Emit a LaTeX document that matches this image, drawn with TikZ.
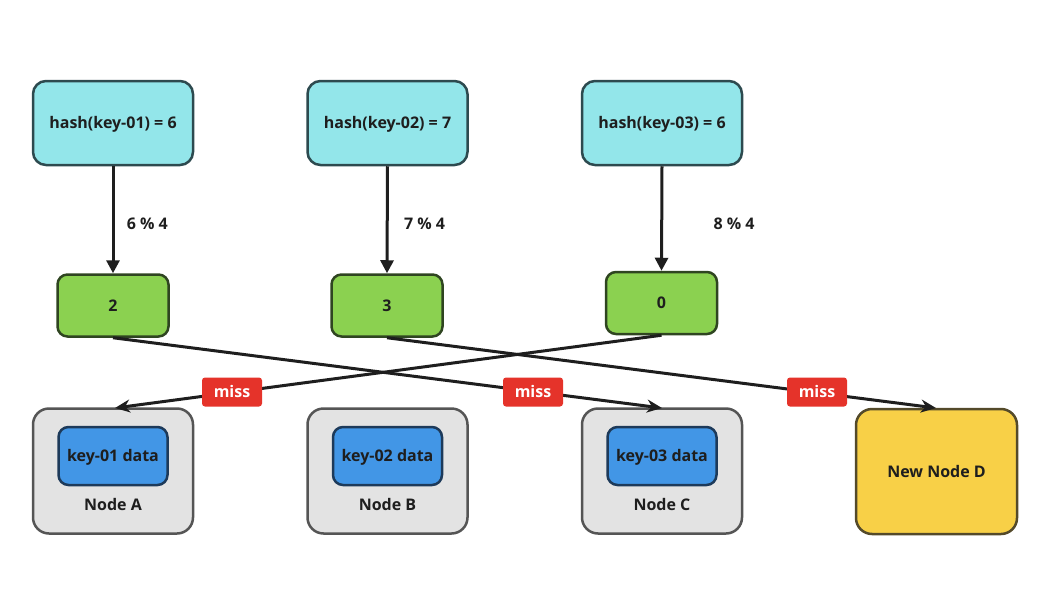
\documentclass[tikz,border=0pt]{standalone}
\usepackage{fontspec}
\setmainfont{Open Sans}
\usetikzlibrary{arrows.meta}
\definecolor{hashfill}{HTML}{93E6EA}
\definecolor{hashdraw}{HTML}{2D4A4F}
\definecolor{grfill}{HTML}{8BD150}
\definecolor{grdraw}{HTML}{2F4521}
\definecolor{gyfill}{HTML}{E3E3E3}
\definecolor{gydraw}{HTML}{555555}
\definecolor{blfill}{HTML}{4296E6}
\definecolor{bldraw}{HTML}{1D3A5A}
\definecolor{yefill}{HTML}{F8D047}
\definecolor{yedraw}{HTML}{544A2A}
\definecolor{missred}{HTML}{E5332A}
\definecolor{ink}{HTML}{1E1E1E}
\begin{document}
\begin{tikzpicture}[x=1pt,y=-1pt,
  every node/.style={font=\bfseries\fontsize{16}{18}\selectfont, text=ink, text height=11.5pt, text depth=0pt},
  hashbox/.style={draw=hashdraw, fill=hashfill, line width=2.5pt, rounded corners=13pt, minimum width=160pt, minimum height=84pt},
  modbox/.style={draw=grdraw, fill=grfill, line width=2.5pt, rounded corners=10pt, minimum width=111pt, minimum height=62pt},
  serverbox/.style={draw=gydraw, fill=gyfill, line width=2.5pt, rounded corners=16pt, minimum width=160pt, minimum height=125pt},
  databox/.style={draw=bldraw, fill=blfill, line width=2.5pt, rounded corners=10pt, minimum width=109pt, minimum height=58pt},
  newbox/.style={draw=yedraw, fill=yefill, line width=2.5pt, rounded corners=16pt, minimum width=161pt, minimum height=125pt},
  misslabel/.style={fill=missred, text=white, rounded corners=3pt, minimum width=60pt, minimum height=29pt, inner sep=0pt},
  vconn/.style={draw=ink, line width=3pt, -{Triangle[length=13pt,width=13pt]}},
  xconn/.style={draw=ink, line width=3pt, -{Stealth[length=15pt,width=13pt]}},
  modlabel/.style={anchor=west}
]
\useasboundingbox (0,0) rectangle (1050,616);

\node[hashbox] (h1) at (113,123) {hash(key-01) = 6};
\node[hashbox] (h2) at (387.5,123) {hash(key-02) = 7};
\node[hashbox] (h3) at (662,123) {hash(key-03) = 6};

\node[modbox] (m1) at (113,305.5) {2};
\node[modbox] (m2) at (387,305.5) {3};
\node[modbox] (m3) at (661.5,303) {0};

\node[serverbox] (sa) at (113,471) {};
\node[serverbox] (sb) at (387.5,471) {};
\node[serverbox] (sc) at (662,471) {};
\node[newbox] (sd) at (936.5,471.5) {New Node D};

\node[databox] (da) at (113,456) {key-01 data};
\node[databox] (db) at (387.5,456) {key-02 data};
\node[databox] (dc) at (662,456) {key-03 data};

\node (na) at (113,505) {Node A};
\node (nb) at (387.5,505) {Node B};
\node (nc) at (662,505) {Node C};

\draw[vconn] (h1.south) -- (m1.north) node[modlabel, pos=0.54, xshift=9pt] {6 \% 4};
\draw[vconn] (h2.south) -- (m2.north) node[modlabel, pos=0.54, xshift=12pt] {7 \% 4};
\draw[vconn] (h3.south) -- (m3.north) node[modlabel, pos=0.55, xshift=47pt] {8 \% 4};

\coordinate (ta) at (115,408);
\coordinate (tc) at (662,408);
\coordinate (td) at (936,408);

\draw[xconn] (m1.south) -- (tc);
\draw[xconn] (m2.south) -- (td);
\draw[xconn] (m3.south) -- (ta);

\node[misslabel] (x1) at (232,392) {miss};
\node[misslabel] (x2) at (533,392) {miss};
\node[misslabel] (x3) at (817,392) {miss};
\end{tikzpicture}
\end{document}
